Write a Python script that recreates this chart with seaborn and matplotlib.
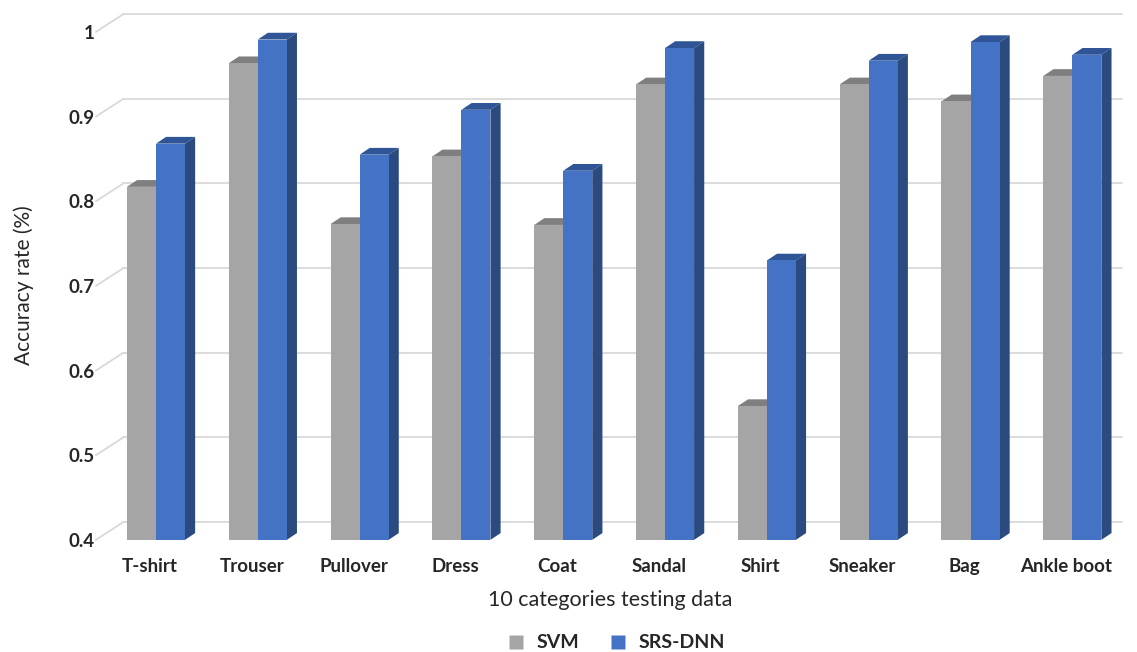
import numpy as np
import pandas as pd
import matplotlib
matplotlib.use("Agg")
import matplotlib.pyplot as plt
import seaborn as sns
from matplotlib.patches import Polygon
from matplotlib.lines import Line2D

categories = ['T-shirt', 'Trouser', 'Pullover', 'Dress', 'Coat',
              'Sandal', 'Shirt', 'Sneaker', 'Bag', 'Ankle boot']
svm = [0.817, 0.963, 0.773, 0.853, 0.772, 0.938, 0.558, 0.938, 0.918, 0.948]
srs_dnn = [0.868, 0.991, 0.855, 0.908, 0.836, 0.981, 0.73, 0.966, 0.988, 0.973]
models = ['SVM', 'SRS-DNN']
yticks = [0.4, 0.5, 0.6, 0.7, 0.8, 0.9, 1.0]
ytick_labels = ['0.4', '0.5', '0.6', '0.7', '0.8', '0.9', '1']

df = pd.DataFrame({
    'category': categories * 2,
    'accuracy': svm + srs_dnn,
    'model': [models[0]] * len(categories) + [models[1]] * len(categories),
})

front = {'SVM': '#A5A5A5', 'SRS-DNN': '#4472C4'}
top = {'SVM': '#7F7F7F', 'SRS-DNN': '#2F5597'}
side = {'SVM': '#8A8A8A', 'SRS-DNN': '#2A4A80'}

sns.set_style("white")
plt.rcParams['font.family'] = ['Lato', 'DejaVu Sans']

fig = plt.figure(figsize=(11.37, 6.52), dpi=100)
ax = fig.add_axes([0.087, 0.172, 0.9, 0.818])

sns.barplot(data=df, x='category', y='accuracy', hue='model',
            palette=[front[m] for m in models], saturation=1,
            width=0.57, errorbar=None, legend=False, ax=ax)

ymin, ymax = 0.4, 1.03
xmin, xmax = -0.5, 9.55
ax.set_ylim(ymin, ymax)
ax.set_xlim(xmin, xmax)

# fake 3d depth of the bars (bars sit slightly right of the tick, as in excel)
shift = 0.06
dx, dy = 0.1, 0.008
bars = list(ax.patches)
n = len(categories)
for i, bar in enumerate(bars):
    m = models[i // n]
    z = 2 if m == 'SVM' else 4
    bar.set_zorder(z)
    bar.set_edgecolor('none')
    bar.set_x(bar.get_x() + shift)
    x0 = bar.get_x()
    w = bar.get_width()
    h = bar.get_y() + bar.get_height()
    b = ymin
    ax.add_patch(Polygon([(x0, h), (x0 + dx, h + dy), (x0 + w + dx, h + dy), (x0 + w, h)],
                         closed=True, facecolor=top[m], edgecolor='none', zorder=z - 1))
    ax.add_patch(Polygon([(x0 + w, b), (x0 + w + dx, b + dy), (x0 + w + dx, h + dy), (x0 + w, h)],
                         closed=True, facecolor=side[m], edgecolor='none', zorder=z - 1,
                         clip_on=False))

# back wall gridlines with perspective
back_dx, back_dy = 0.24, 0.021
for v in yticks:
    ax.plot([xmin + back_dx, xmax], [v + back_dy, v + back_dy], color='#D9D9D9',
            lw=1.3, zorder=0, clip_on=False)
    ax.plot([xmin - 0.03, xmin + back_dx], [v, v + back_dy], color='#D9D9D9',
            lw=1.3, zorder=0, clip_on=False)

for s in ax.spines.values():
    s.set_visible(False)
ax.set_yticks(yticks)
ax.set_yticklabels(ytick_labels, fontsize=13.5, fontweight='bold', color='#262626')
ax.tick_params(axis='both', length=0)
ax.tick_params(axis='y', pad=3)
ax.tick_params(axis='x', pad=13)
for lab in ax.get_xticklabels():
    lab.set_fontsize(13.5)
    lab.set_fontweight('bold')
    lab.set_color('#262626')
ax.set_xlabel('10 categories testing data', fontsize=15.5, color='#262626', labelpad=11)
ax.set_ylabel('Accuracy rate (%)', fontsize=15, color='#262626')
ax.yaxis.set_label_coords(-0.063, 0.478)

handles = [Line2D([], [], marker='s', linestyle='none', markersize=10,
                  markerfacecolor=front[m], markeredgecolor='none') for m in models]
fig.legend(handles, models, loc='lower center', bbox_to_anchor=(0.537, -0.026), ncol=2,
           frameon=False, handletextpad=0.05, columnspacing=1.0,
           prop={'size': 14, 'weight': 'bold'})

fig.savefig('out.png', dpi=100)
